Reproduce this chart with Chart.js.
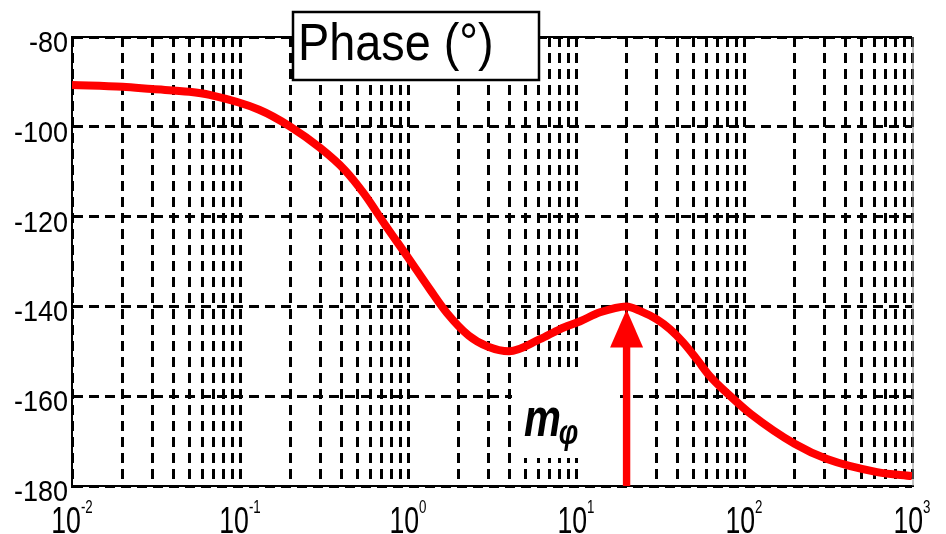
<!DOCTYPE html>
<html>
<head>
<meta charset="utf-8">
<script src="https://cdn.jsdelivr.net/npm/chart.js@4.4.1/dist/chart.umd.min.js"></script>
<style>
    html, body { margin: 0; padding: 0; background: #fff; }
    canvas { display: block; }
</style>
</head>
<body>
<canvas id="phaseChart" width="946" height="534"></canvas>
<script>
// frequency (rad/s) and phase (deg) of the open loop response
const freq = [0.01, 0.02, 0.03, 0.05, 0.066, 0.13, 0.2, 0.3, 0.42, 0.55, 0.73, 1, 1.35, 1.7, 2.3, 3, 4, 6.1, 8, 10.6, 13.9, 20, 24, 30.3, 36.3, 43.4, 52.5, 62.8, 83, 110, 200, 312, 620, 1000];
const phase = [-90.7, -91.1, -91.6, -92.2, -92.9, -96.2, -100, -104.7, -109.6, -115, -121.8, -129.1, -136.2, -141.4, -146.5, -149, -150, -147.3, -145.1, -143.3, -141.3, -140, -141, -142.9, -145.1, -148, -151.8, -155.6, -160, -164, -170.6, -174, -176.9, -177.8];

// phase margin marker
const marginFreq = 20;
const marginPhase = -140;

// axis ticks
const decadeExps = [-2, -1, 0, 1, 2, 3];
const phaseTicks = [-180, -160, -140, -120, -100, -80];

const FONT = '"Liberation Sans", Arial, sans-serif';

// dashed grid on every 1..9 multiple of each decade
const gridFreqs = [];
for (let d = decadeExps[0]; d < decadeExps[decadeExps.length - 1]; d++) {
    for (let m = 1; m < 10; m++) {
        gridFreqs.push(Number((m * Math.pow(10, d)).toPrecision(6)));
    }
}
gridFreqs.push(Math.pow(10, decadeExps[decadeExps.length - 1]));

const decorations = {
    id: 'decorations',
    beforeDatasetsDraw(chart) {
        const ctx = chart.ctx;
        // white patch behind the m_phi label
        ctx.save();
        ctx.fillStyle = '#fff';
        ctx.fillRect(512, 372, 108, 86);
        ctx.restore();
    },
    afterDatasetsDraw(chart) {
        const ctx = chart.ctx;
        const xs = chart.scales.x, ys = chart.scales.y;
        const x = xs.getPixelForValue(marginFreq);
        const yTop = ys.getPixelForValue(marginPhase);
        const yBot = chart.chartArea.bottom;
        ctx.save();
        ctx.fillStyle = '#ff0000';
        ctx.fillRect(x - 3.7, yTop + 36, 7.4, yBot - yTop - 36);
        ctx.beginPath();
        ctx.moveTo(x, yTop + 3);
        ctx.lineTo(x + 16.5, yTop + 41);
        ctx.lineTo(x - 16.5, yTop + 41);
        ctx.closePath();
        ctx.fill();
        ctx.restore();
    },
    afterDraw(chart) {
        const ctx = chart.ctx;
        const {left, right, top, bottom} = chart.chartArea;
        const xs = chart.scales.x, ys = chart.scales.y;

        ctx.save();
        // frame: solid top, thin grey right edge
        ctx.strokeStyle = '#000';
        ctx.lineWidth = 2;
        ctx.beginPath();
        ctx.moveTo(left, top);
        ctx.lineTo(right, top);
        ctx.stroke();
        ctx.strokeStyle = '#888';
        ctx.lineWidth = 1;
        ctx.beginPath();
        ctx.moveTo(right + 1, top);
        ctx.lineTo(right + 1, bottom);
        ctx.stroke();

        ctx.fillStyle = '#000';
        ctx.textBaseline = 'alphabetic';

        // y tick labels
        ctx.textAlign = 'right';
        phaseTicks.forEach(v => {
            const py = ys.getPixelForValue(v);
            ctx.save();
            ctx.translate(68, py + 15);
            ctx.scale(0.9, 1);
            ctx.font = '30px ' + FONT;
            ctx.fillText(String(v), 0, 0);
            ctx.restore();
        });

        // x tick labels as powers of ten
        ctx.textAlign = 'left';
        decadeExps.forEach(exp => {
            const px = xs.getPixelForValue(Math.pow(10, exp));
            ctx.save();
            ctx.translate(px, 0);
            ctx.scale(0.74, 1);
            ctx.font = '36px ' + FONT;
            const bw = ctx.measureText('10').width;
            ctx.font = '18px ' + FONT;
            const sw = ctx.measureText(String(exp)).width;
            const start = -(bw + sw) / 2;
            ctx.font = '36px ' + FONT;
            ctx.fillText('10', start, 533);
            ctx.font = '18px ' + FONT;
            ctx.fillText(String(exp), start + bw, 513);
            ctx.restore();
        });

        // title box
        ctx.fillStyle = '#fff';
        ctx.fillRect(293, 12, 246, 68);
        ctx.strokeStyle = '#000';
        ctx.lineWidth = 2.5;
        ctx.strokeRect(293, 12, 246, 68);
        ctx.save();
        ctx.translate(298, 60);
        ctx.scale(0.9, 1);
        ctx.fillStyle = '#000';
        ctx.font = '52px ' + FONT;
        ctx.fillText('Phase (°)', 0, 0);
        ctx.restore();

        // m_phi label
        ctx.save();
        ctx.translate(524, 436);
        ctx.scale(0.77, 1);
        ctx.fillStyle = '#000';
        ctx.font = 'italic bold 54px ' + FONT;
        ctx.fillText('m', 0, 0);
        const mw = ctx.measureText('m').width;
        ctx.font = 'italic bold 36px ' + FONT;
        ctx.fillText('φ', mw - 3, 8);
        ctx.restore();

        ctx.restore();
    }
};

new Chart(document.getElementById('phaseChart'), {
    type: 'line',
    data: {
        datasets: [{
            data: freq.map((f, i) => ({x: f, y: phase[i]})),
            borderColor: '#ff0000',
            borderWidth: 8,
            pointRadius: 0,
            fill: false,
            cubicInterpolationMode: 'monotone',
            borderCapStyle: 'butt',
            borderJoinStyle: 'round'
        }]
    },
    options: {
        responsive: false,
        animation: false,
        events: [],
        layout: {padding: {top: 37, right: 34, left: 0, bottom: 0}},
        plugins: {legend: {display: false}, tooltip: {enabled: false}},
        scales: {
            x: {
                type: 'logarithmic',
                min: 0.01,
                max: 1000,
                afterBuildTicks: (scale) => {
                    scale.ticks = gridFreqs.map(v => ({value: v}));
                },
                afterFit: (scale) => { scale.height = 48; },
                ticks: {display: false},
                grid: {color: '#000', lineWidth: 3, drawTicks: false},
                border: {display: true, color: '#000', width: 2, dash: [10, 6]}
            },
            y: {
                min: phaseTicks[0],
                max: phaseTicks[phaseTicks.length - 1],
                afterBuildTicks: (scale) => {
                    scale.ticks = phaseTicks.map(v => ({value: v}));
                },
                afterFit: (scale) => { scale.width = 72; },
                ticks: {display: false},
                grid: {color: '#000', lineWidth: 3, drawTicks: false},
                border: {display: true, color: '#000', width: 2, dash: [10, 6]}
            }
        }
    },
    plugins: [decorations]
});
</script>
</body>
</html>
